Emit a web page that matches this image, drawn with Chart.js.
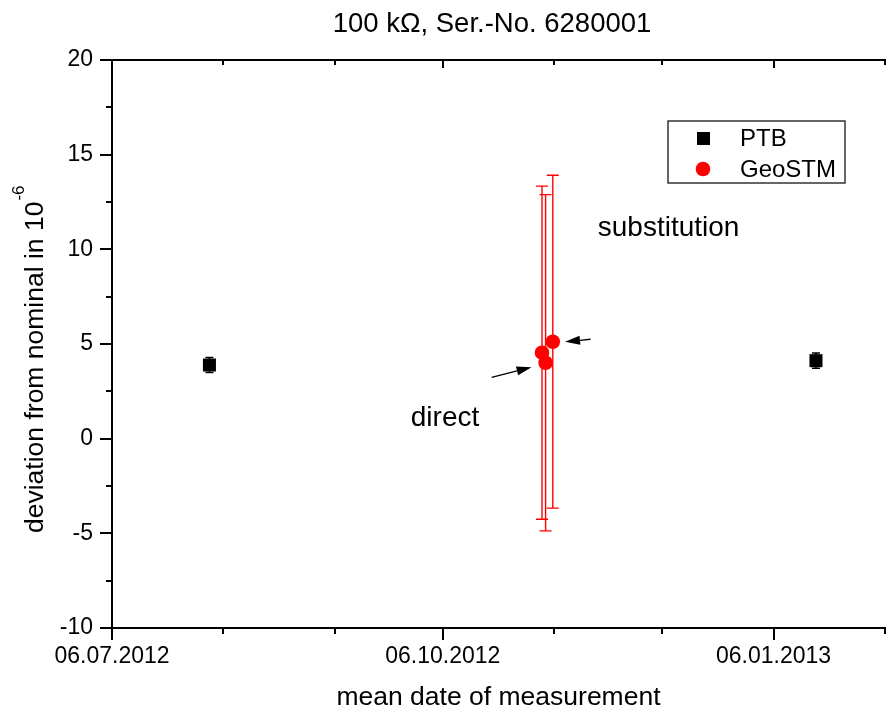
<!DOCTYPE html>
<html>
<head>
<meta charset="utf-8">
<script src="https://cdn.jsdelivr.net/npm/chart.js@4.4.0/dist/chart.umd.min.js"></script>
<style>
  html, body { margin: 0; padding: 0; background: #fff; }
  #wrap { width: 886px; height: 713px; }
</style>
</head>
<body>
<div id="wrap"><canvas id="chart" width="886" height="713"></canvas></div>
<script>
// x values are days counted from 06.07.2012
const startDate = new Date(2012, 6, 6);
const xTickDays = [0, 31, 62, 92, 123, 153, 184, 215];
const xLabelDays = [0, 92, 184];
const yTickValues = [-10, -7.5, -5, -2.5, 0, 2.5, 5, 7.5, 10, 12.5, 15, 17.5, 20];
const yLabelValues = [-10, -5, 0, 5, 10, 15, 20];

const ptbDays = [27.1, 195.8];
const ptbValues = [3.89, 4.12];
const ptbErrors = [0.4, 0.4];

const geoDays = [119.6, 120.6, 122.6];
const geoValues = [4.54, 4.01, 5.12];
const geoErrors = [8.8, 8.88, 8.79];

// text notes and arrows, in data units (day, value)
const noteTexts = ["substitution", "direct"];
const noteDays = [135.1, 83.1];
const noteValues = [11.13, 1.09];
const arrowFrom = [[133.1, 5.25], [105.6, 3.24]];
const arrowTo = [[126.0, 5.12], [116.7, 3.77]];

const titleText = "100 k\u03A9, Ser.-No. 6280001";
const xTitleText = "mean date of measurement";
const yTitleText = "deviation from nominal in 10";
const yTitleSup = "-6";

const FONT = '"Liberation Sans", Arial, sans-serif';

function dayLabel(d){
    const dt = new Date(startDate);
    dt.setDate(dt.getDate() + d);
    const dd = String(dt.getDate()).padStart(2, "0");
    const mm = String(dt.getMonth() + 1).padStart(2, "0");
    return dd + "." + mm + "." + dt.getFullYear();
}

function toPoints(days, values){
    return days.map((d, i) => ({ x: d, y: values[i] }));
}

// Error bars under the markers
const errorBars = {
    id: "errorBars",
    beforeDatasetsDraw(chart){
        const { ctx, scales: { x, y } } = chart;
        const sets = [
            { days: ptbDays, vals: ptbValues, errs: ptbErrors, color: "#000", cap: 4, width: 1.5 },
            { days: geoDays, vals: geoValues, errs: geoErrors, color: "#ff0000", cap: 6, width: 1.4 }
        ];
        ctx.save();
        sets.forEach(s => {
            ctx.strokeStyle = s.color;
            ctx.lineWidth = s.width;
            s.days.forEach((d, i) => {
                const px = x.getPixelForValue(d);
                const top = y.getPixelForValue(s.vals[i] + s.errs[i]);
                const bot = y.getPixelForValue(s.vals[i] - s.errs[i]);
                ctx.beginPath();
                ctx.moveTo(px, top); ctx.lineTo(px, bot);
                ctx.moveTo(px - s.cap, top); ctx.lineTo(px + s.cap, top);
                ctx.moveTo(px - s.cap, bot); ctx.lineTo(px + s.cap, bot);
                ctx.stroke();
            });
        });
        ctx.restore();
    }
};

// Frame ticks, titles, legend, notes
const decorations = {
    id: "decorations",
    afterDraw(chart){
        const { ctx, chartArea: a, scales: { x, y } } = chart;
        ctx.save();
        ctx.strokeStyle = "#000";
        ctx.lineWidth = 2;

        // top axis line
        ctx.beginPath();
        ctx.moveTo(a.left, a.top); ctx.lineTo(a.right + 1, a.top);
        ctx.stroke();

        // x ticks: bottom outward, top inward
        xTickDays.forEach(d => {
            const px = Math.round(x.getPixelForValue(d));
            const major = xLabelDays.includes(d);
            ctx.beginPath();
            ctx.moveTo(px, a.bottom); ctx.lineTo(px, a.bottom + (major ? 12 : 6));
            ctx.moveTo(px, a.top); ctx.lineTo(px, a.top + (major ? 8 : 5));
            ctx.stroke();
        });
        // y ticks outward
        yTickValues.forEach(v => {
            const py = Math.round(y.getPixelForValue(v));
            const major = yLabelValues.includes(v);
            ctx.beginPath();
            ctx.moveTo(a.left, py); ctx.lineTo(a.left - (major ? 12 : 6), py);
            ctx.stroke();
        });

        // titles
        ctx.fillStyle = "#000";
        ctx.textAlign = "center";
        ctx.textBaseline = "alphabetic";
        ctx.font = "27.5px " + FONT;
        ctx.fillText(titleText, 492, 32);
        ctx.font = "26.5px " + FONT;
        ctx.fillText(xTitleText, (a.left + a.right) / 2, 705);

        // legend
        const lx = a.right - 217, ly = a.top + 61;
        ctx.lineWidth = 1.5;
        ctx.strokeStyle = "#333";
        ctx.strokeRect(lx, ly, 177, 62);
        ctx.fillStyle = "#000";
        ctx.fillRect(lx + 29, ly + 11, 13, 13);
        ctx.fillStyle = "#ff0000";
        ctx.beginPath();
        ctx.arc(lx + 35, ly + 48, 7.3, 0, Math.PI * 2);
        ctx.fill();
        ctx.fillStyle = "#000";
        ctx.font = "24px " + FONT;
        ctx.textBaseline = "middle";
        ctx.textAlign = "left";
        ctx.fillText(chart.data.datasets[0].label, lx + 72, ly + 18);
        ctx.fillText(chart.data.datasets[1].label, lx + 72, ly + 49);

        // notes
        ctx.font = "28px " + FONT;
        noteTexts.forEach((t, i) => {
            ctx.fillText(t, x.getPixelForValue(noteDays[i]), y.getPixelForValue(noteValues[i]));
        });

        // arrows
        ctx.strokeStyle = "#000";
        ctx.lineWidth = 1.3;
        arrowFrom.forEach((f, i) => {
            const x0 = x.getPixelForValue(f[0]), y0 = y.getPixelForValue(f[1]);
            const x1 = x.getPixelForValue(arrowTo[i][0]), y1 = y.getPixelForValue(arrowTo[i][1]);
            const ang = Math.atan2(y1 - y0, x1 - x0);
            const hl = 15, hw = 4.5;
            const bx = x1 - hl * Math.cos(ang), by = y1 - hl * Math.sin(ang);
            ctx.beginPath();
            ctx.moveTo(x0, y0); ctx.lineTo(bx, by);
            ctx.stroke();
            ctx.beginPath();
            ctx.moveTo(x1, y1);
            ctx.lineTo(bx + hw * Math.sin(ang), by - hw * Math.cos(ang));
            ctx.lineTo(bx - hw * Math.sin(ang), by + hw * Math.cos(ang));
            ctx.closePath();
            ctx.fill();
        });

        // y axis title with superscript
        ctx.translate(43, a.bottom - 95);
        ctx.rotate(-Math.PI / 2);
        ctx.textBaseline = "alphabetic";
        ctx.font = "26.5px " + FONT;
        ctx.fillText(yTitleText, 0, 0);
        const w = ctx.measureText(yTitleText).width;
        ctx.font = "17px " + FONT;
        ctx.fillText(yTitleSup, w + 1, -19);

        ctx.restore();
    }
};

const ctx = document.getElementById("chart").getContext("2d");
new Chart(ctx, {
    type: "scatter",
    data: {
        datasets: [
            { label: "PTB", data: toPoints(ptbDays, ptbValues), pointStyle: "rect", pointRadius: 9.2,
              backgroundColor: "#000", borderColor: "#000", borderWidth: 0 },
            { label: "GeoSTM", data: toPoints(geoDays, geoValues), pointStyle: "circle", pointRadius: 7.3,
              backgroundColor: "#ff0000", borderColor: "#ff0000", borderWidth: 0 }
        ]
    },
    options: {
        responsive: false,
        animation: false,
        events: [],
        layout: { autoPadding: false, padding: { left: 0, right: 1, top: 60, bottom: 0 } },
        plugins: {
            legend: { display: false },
            tooltip: { enabled: false },
            title: { display: false }
        },
        scales: {
            x: {
                type: "linear", min: 0, max: 215,
                afterBuildTicks: s => { s.ticks = xTickDays.map(v => ({ value: v })); },
                afterFit: s => { s.height = 85; s.paddingLeft = 0; s.paddingRight = 0; },
                grid: { display: false, drawTicks: false },
                border: { display: true, color: "#000", width: 2 },
                ticks: {
                    autoSkip: false, maxRotation: 0, padding: 15, color: "#000",
                    font: { family: FONT, size: 23 },
                    callback: v => xLabelDays.includes(v) ? dayLabel(v) : ""
                }
            },
            y: {
                type: "linear", min: -10, max: 20,
                afterBuildTicks: s => { s.ticks = yTickValues.map(v => ({ value: v })); },
                afterFit: s => { s.width = 112; s.paddingTop = 0; s.paddingBottom = 0; },
                grid: { display: false, drawTicks: false },
                border: { display: true, color: "#000", width: 2 },
                ticks: {
                    autoSkip: false, padding: 19, color: "#000",
                    font: { family: FONT, size: 23 },
                    callback: v => yLabelValues.includes(v) ? String(v) : ""
                }
            }
        }
    },
    plugins: [errorBars, decorations]
});
</script>
</body>
</html>
